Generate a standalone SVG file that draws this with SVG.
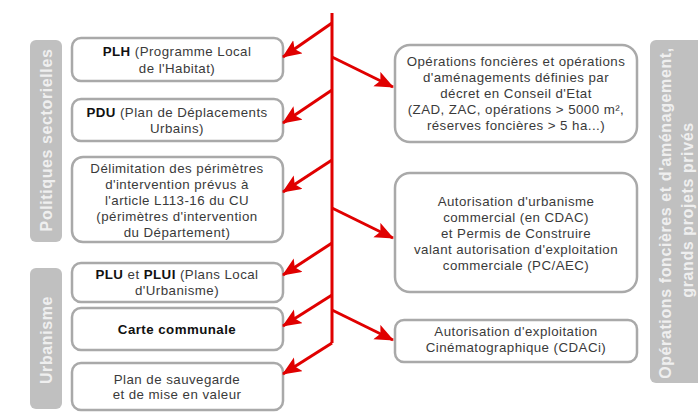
<svg xmlns="http://www.w3.org/2000/svg" width="698" height="413" viewBox="0 0 698 413">
<defs>
<style>
.side{fill:#c0c0c0}
.sidet{font-family:"Liberation Sans",Arial,sans-serif;font-weight:bold;font-size:16px;fill:#efefef;text-anchor:middle;letter-spacing:0.6px}
.box{fill:#fff;stroke:#a9a9a9;stroke-width:2.5}
.t{font-family:"Liberation Sans",Arial,sans-serif;font-size:13.3px;fill:#3a3a3a;text-anchor:middle;letter-spacing:0.45px}
.b{font-weight:bold;fill:#111}
.con{stroke:#e00000;stroke-width:3;fill:none}
.arr{stroke:#e00000;stroke-width:3;fill:none;marker-end:url(#ah)}
</style>
<marker id="ah" markerUnits="userSpaceOnUse" markerWidth="20" markerHeight="18" refX="18" refY="8" orient="auto">
<path d="M0,0 L19,8 L0,16 L4,8 Z" fill="#e00000"/>
</marker>
</defs>
<rect width="698" height="413" fill="#fff"/>

<g id="side-politiques">
<rect class="side" x="30" y="40" width="32" height="202" rx="6"/>
<text class="sidet" transform="translate(52,140) rotate(-90)">Politiques sectorielles</text>
</g>
<g id="side-urbanisme">
<rect class="side" x="30" y="268" width="32" height="141" rx="6"/>
<text class="sidet" transform="translate(52,340) rotate(-90)">Urbanisme</text>
</g>
<g id="side-operations">
<rect class="side" x="650" y="40" width="56" height="343" rx="6"/>
<text class="sidet" transform="translate(671,213) rotate(-90)">Opérations foncières et d'aménagement,</text>
<text class="sidet" transform="translate(693,210) rotate(-90)">grands projets privés</text>
</g>

<g id="plh">
<rect class="box" x="72" y="38" width="211" height="43" rx="9"/>
<text class="t" x="177" y="56"><tspan class="b">PLH</tspan> (Programme Local</text>
<text class="t" x="177" y="73">de l'Habitat)</text>
</g>
<g id="pdu">
<rect class="box" x="72" y="99" width="211" height="42" rx="9"/>
<text class="t" x="177" y="117"><tspan class="b">PDU</tspan> (Plan de Déplacements</text>
<text class="t" x="177" y="133">Urbains)</text>
</g>
<g id="delimitation">
<rect class="box" x="72" y="157" width="211" height="85" rx="11"/>
<text class="t" x="177" y="173">Délimitation des périmètres</text>
<text class="t" x="177" y="189">d'intervention prévus à</text>
<text class="t" x="177" y="205">l'article L113-16 du CU</text>
<text class="t" x="177" y="221">(périmètres d'intervention</text>
<text class="t" x="177" y="237">du Département)</text>
</g>
<g id="plu">
<rect class="box" x="72" y="263" width="211" height="39" rx="9"/>
<text class="t" x="177" y="279"><tspan class="b">PLU</tspan> et <tspan class="b">PLUI</tspan> (Plans Local</text>
<text class="t" x="177" y="295">d'Urbanisme)</text>
</g>
<g id="carte">
<rect class="box" x="72" y="308" width="211" height="42" rx="9"/>
<text class="t b" x="177" y="334">Carte communale</text>
</g>
<g id="sauvegarde">
<rect class="box" x="72" y="363" width="211" height="47" rx="9"/>
<text class="t" x="177" y="384">Plan de sauvegarde</text>
<text class="t" x="177" y="399">et de mise en valeur</text>
</g>

<g id="operations">
<rect class="box" x="395" y="45" width="242" height="97" rx="15"/>
<text class="t" x="516" y="66">Opérations foncières et opérations</text>
<text class="t" x="516" y="82">d'aménagements définies par</text>
<text class="t" x="516" y="98">décret en Conseil d'Etat</text>
<text class="t" x="516" y="114">(ZAD, ZAC, opérations &gt; 5000 m²,</text>
<text class="t" x="516" y="130">réserves foncières &gt; 5 ha...)</text>
</g>
<g id="cdac">
<rect class="box" x="395" y="173" width="242" height="119" rx="15"/>
<text class="t" x="516" y="206">Autorisation d'urbanisme</text>
<text class="t" x="516" y="222">commercial (en CDAC)</text>
<text class="t" x="516" y="238">et Permis de Construire</text>
<text class="t" x="516" y="254">valant autorisation d'exploitation</text>
<text class="t" x="516" y="270">commerciale (PC/AEC)</text>
</g>
<g id="cdaci">
<rect class="box" x="395" y="320" width="242" height="42" rx="9"/>
<text class="t" x="516" y="336">Autorisation d'exploitation</text>
<text class="t" x="516" y="352">Cinématographique (CDACi)</text>
</g>

<g id="connectors">
<path class="con" d="M332,13 V343"/>
<path class="arr" d="M332,23 L283,57"/>
<path class="arr" d="M332,90 L283,123"/>
<path class="arr" d="M332,160 L283,192"/>
<path class="arr" d="M332,243 L283,275"/>
<path class="arr" d="M332,295 L283,326"/>
<path class="arr" d="M332,343 L283,374"/>
<path class="arr" d="M332,57 L393,87"/>
<path class="arr" d="M332,208 L393,238"/>
<path class="arr" d="M332,310 L393,340"/>
</g>
</svg>
